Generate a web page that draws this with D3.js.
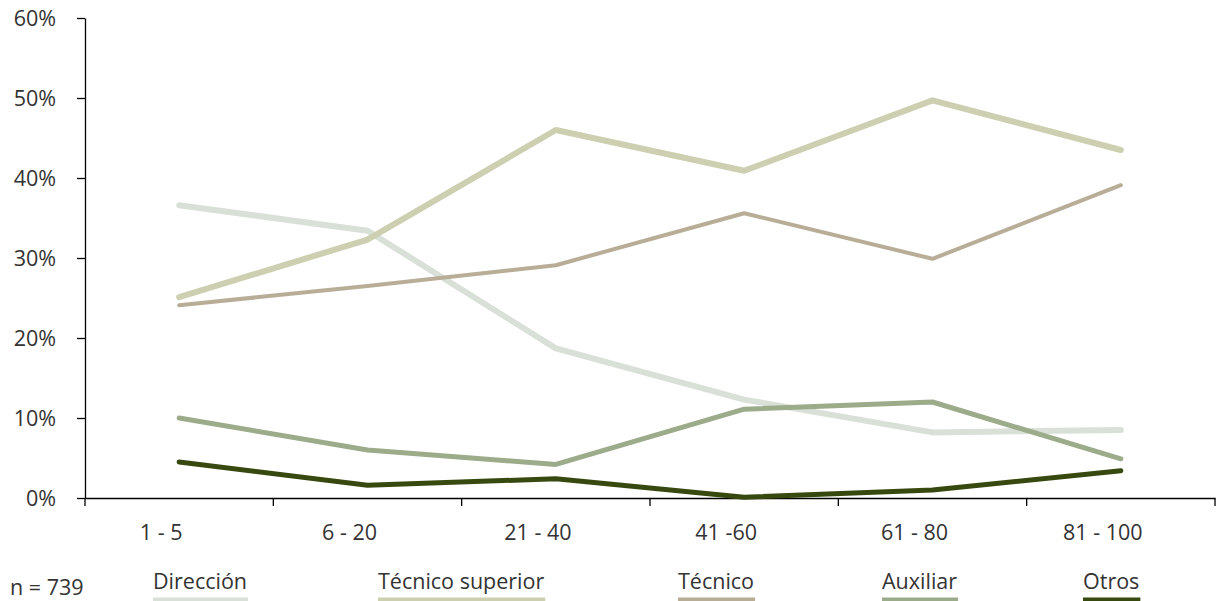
<!DOCTYPE html>
<html><head><meta charset="utf-8">
<script src="https://cdn.jsdelivr.net/npm/d3@7/dist/d3.min.js"></script>
<style>body{margin:0;background:#fff}svg{display:block}text{font-family:"Open Sans",Lato,sans-serif;fill:#333}</style>
</head><body><svg id="c" width="1217" height="601"></svg>
<script>
const categories = ["1 - 5","6 - 20","21 - 40","41 -60","61 - 80","81 - 100"];
const seriesNames = ["Dirección","Técnico superior","Técnico","Auxiliar","Otros"];
const direccion = [36.6,33.4,18.7,12.3,8.2,8.5];
const tecnicoSuperior = [25.1,32.3,46.0,40.9,49.7,43.5];
const tecnico = [24.1,26.5,29.1,35.6,29.9,39.1];
const auxiliar = [10.0,6.0,4.2,11.1,12.0,4.9];
const otros = [4.5,1.6,2.4,0.1,1.0,3.4];
const yTicks = [0,10,20,30,40,50,60];
const colors = ["#d9e0d8","#cccfb0","#b8ad96","#9cab8a","#38490f"];
const widths = [6,6,4,5,5];
const note = "n = 739";

const FONT = '"Open Sans",sans-serif';
const FS = 21.5;
const svg = d3.select("#c");
const x = d3.scaleBand().domain(categories).range([85,1215]);
const y = d3.scaleLinear().domain([0,60]).range([498,18]);

// y axis
const ya = svg.append("g").attr("transform","translate(85,0)")
  .call(d3.axisLeft(y).tickValues(yTicks).tickFormat(d=>d+"%").tickSize(8).tickSizeOuter(0));
ya.select(".domain").attr("stroke","#000").attr("stroke-width",1.3);
ya.selectAll(".tick line").attr("stroke","#000").attr("stroke-width",1.3);
ya.selectAll(".tick text").attr("x",-29).attr("font-size",FS).attr("fill","#333").attr("font-family",FONT).attr("dy","0.35em");

// x axis
const xa = svg.append("g").attr("transform","translate(0,498)")
  .call(d3.axisBottom(x).tickSize(0).tickSizeOuter(0));
xa.select(".domain").attr("stroke","#000").attr("stroke-width",1.3);
xa.selectAll(".tick text").attr("x",-18).attr("y",34).attr("font-size",FS).attr("fill","#333").attr("font-family",FONT).attr("dy","0.35em");
// boundary ticks
const bounds = categories.map(c=>x(c)).concat([x.range()[1]]);
svg.append("g").selectAll("line").data(bounds).join("line")
  .attr("x1",d=>d).attr("x2",d=>d).attr("y1",498).attr("y2",506)
  .attr("stroke","#000").attr("stroke-width",1.3);

const all = [direccion,tecnicoSuperior,tecnico,auxiliar,otros];
const line = d3.line().x((d,i)=>x(categories[i])+x.bandwidth()/2).y(d=>y(d));
svg.append("g").selectAll("path").data(all).join("path")
  .attr("d",line).attr("fill","none")
  .attr("stroke",(d,i)=>colors[i]).attr("stroke-width",(d,i)=>widths[i])
  .attr("stroke-linecap","round").attr("stroke-linejoin","round");

// legend
svg.append("text").attr("x",10).attr("y",595).attr("font-size",FS).text(note);
const legX = [153,378,678,882,1083];
const lg = svg.append("g").selectAll("g").data(seriesNames).join("g");
lg.each(function(n,i){
  const g = d3.select(this);
  const t = g.append("text").attr("x",legX[i]).attr("y",589).attr("font-size",FS).text(n);
  const w = t.node().getComputedTextLength();
  g.append("rect").attr("x",legX[i]).attr("y",597.5).attr("width",w+1).attr("height",4).attr("fill",colors[i]);
});
</script></body></html>
